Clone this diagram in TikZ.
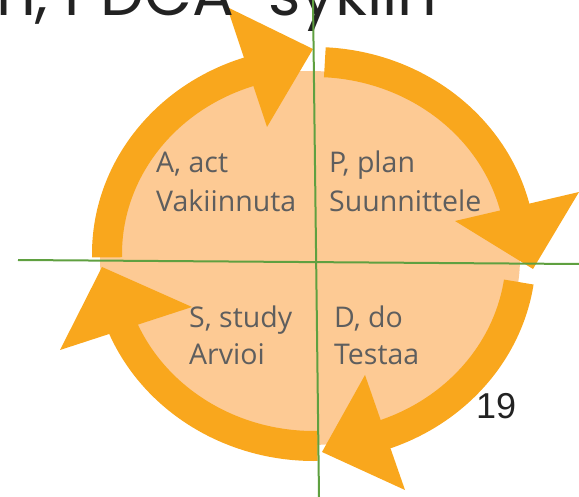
\documentclass[tikz,border=0pt]{standalone}
\usepackage{fontspec}
\setmainfont{Open Sans}
\newfontfamily\titlefont{Poppins}
\newfontfamily\numfont{Liberation Sans}
\usetikzlibrary{calc}
\definecolor{ringor}{HTML}{F9A71D}
\definecolor{fillor}{HTML}{FDCA94}
\definecolor{gline}{HTML}{5FA040}
\definecolor{txtgray}{HTML}{5E5E5E}
\definecolor{darktxt}{HTML}{222222}
\begin{document}
\begin{tikzpicture}[x=1pt,y=1pt,
  lbl/.style={anchor=base west, text=txtgray, font=\fontsize{28.5}{32}\selectfont, inner sep=0pt},
  shaft/.style={draw=ringor, line width=30pt},
  head/.style={fill=ringor},
  axisline/.style={draw=gline, line width=2pt}]
\useasboundingbox (0,0) rectangle (579,-497);
\clip (0,0) rectangle (579,-497);
\coordinate (C) at (314,-254);
% background ellipse
\fill[fillor] (310,-258) ellipse [x radius=210, y radius=187];
% shafts
\draw[shaft] ($(C)+(181:207 and 192)$) arc[start angle=181, end angle=106, x radius=207, y radius=192];
\draw[shaft] ($(C)+(87:207 and 192)$) arc[start angle=87, end angle=11, x radius=207, y radius=192];
\draw[shaft] ($(C)+(-8.4:207 and 192)$) arc[start angle=-8.4, end angle=-73, x radius=207, y radius=192];
\draw[shaft] ($(C)+(271:207 and 192)$) arc[start angle=271, end angle=200, x radius=207, y radius=192];
% heads
\fill[head] (227,-7) -- (313,-49) -- (267,-127) -- cycle;
\fill[head] (455,-221) -- (579,-192) -- (533,-269) -- cycle;
\fill[head] (365,-375) -- (405,-490) -- (322,-452) -- cycle;
\fill[head] (192,-307) -- (60,-350) -- (102,-267) -- cycle;
% labels
\node[lbl] (a1) at (156,-173) {A, act};
\node[lbl] (a2) at (156,-212) {Vakiinnuta};
\node[lbl] (p1) at (329,-173) {P, plan};
\node[lbl] (p2) at (329,-212) {Suunnittele};
\node[lbl] (s1) at (189,-328) {S, study};
\node[lbl] (s2) at (189,-365) {Arvioi};
\node[lbl] (d1) at (334,-328) {D, do};
\node[lbl] (d2) at (334,-365) {Testaa};
% title fragment and page number
\node[anchor=base west, inner sep=0pt, text=darktxt, font=\titlefont\fontsize{62}{62}\selectfont] (title) at (-4,-16) {n, PDCA-syklin};
\node[anchor=base west, inner sep=0pt, text=darktxt, font=\numfont\fontsize{36}{36}\selectfont] (pg) at (476,-418) {19};
% axes
\coordinate (vt) at (313,0);
\coordinate (vb) at (319,-497);
\coordinate (hl) at (18,-260);
\coordinate (hr) at (579,-264);
\draw[axisline] (vt) -- (vb);
\draw[axisline] (hl) -- (hr);
\end{tikzpicture}
\end{document}
